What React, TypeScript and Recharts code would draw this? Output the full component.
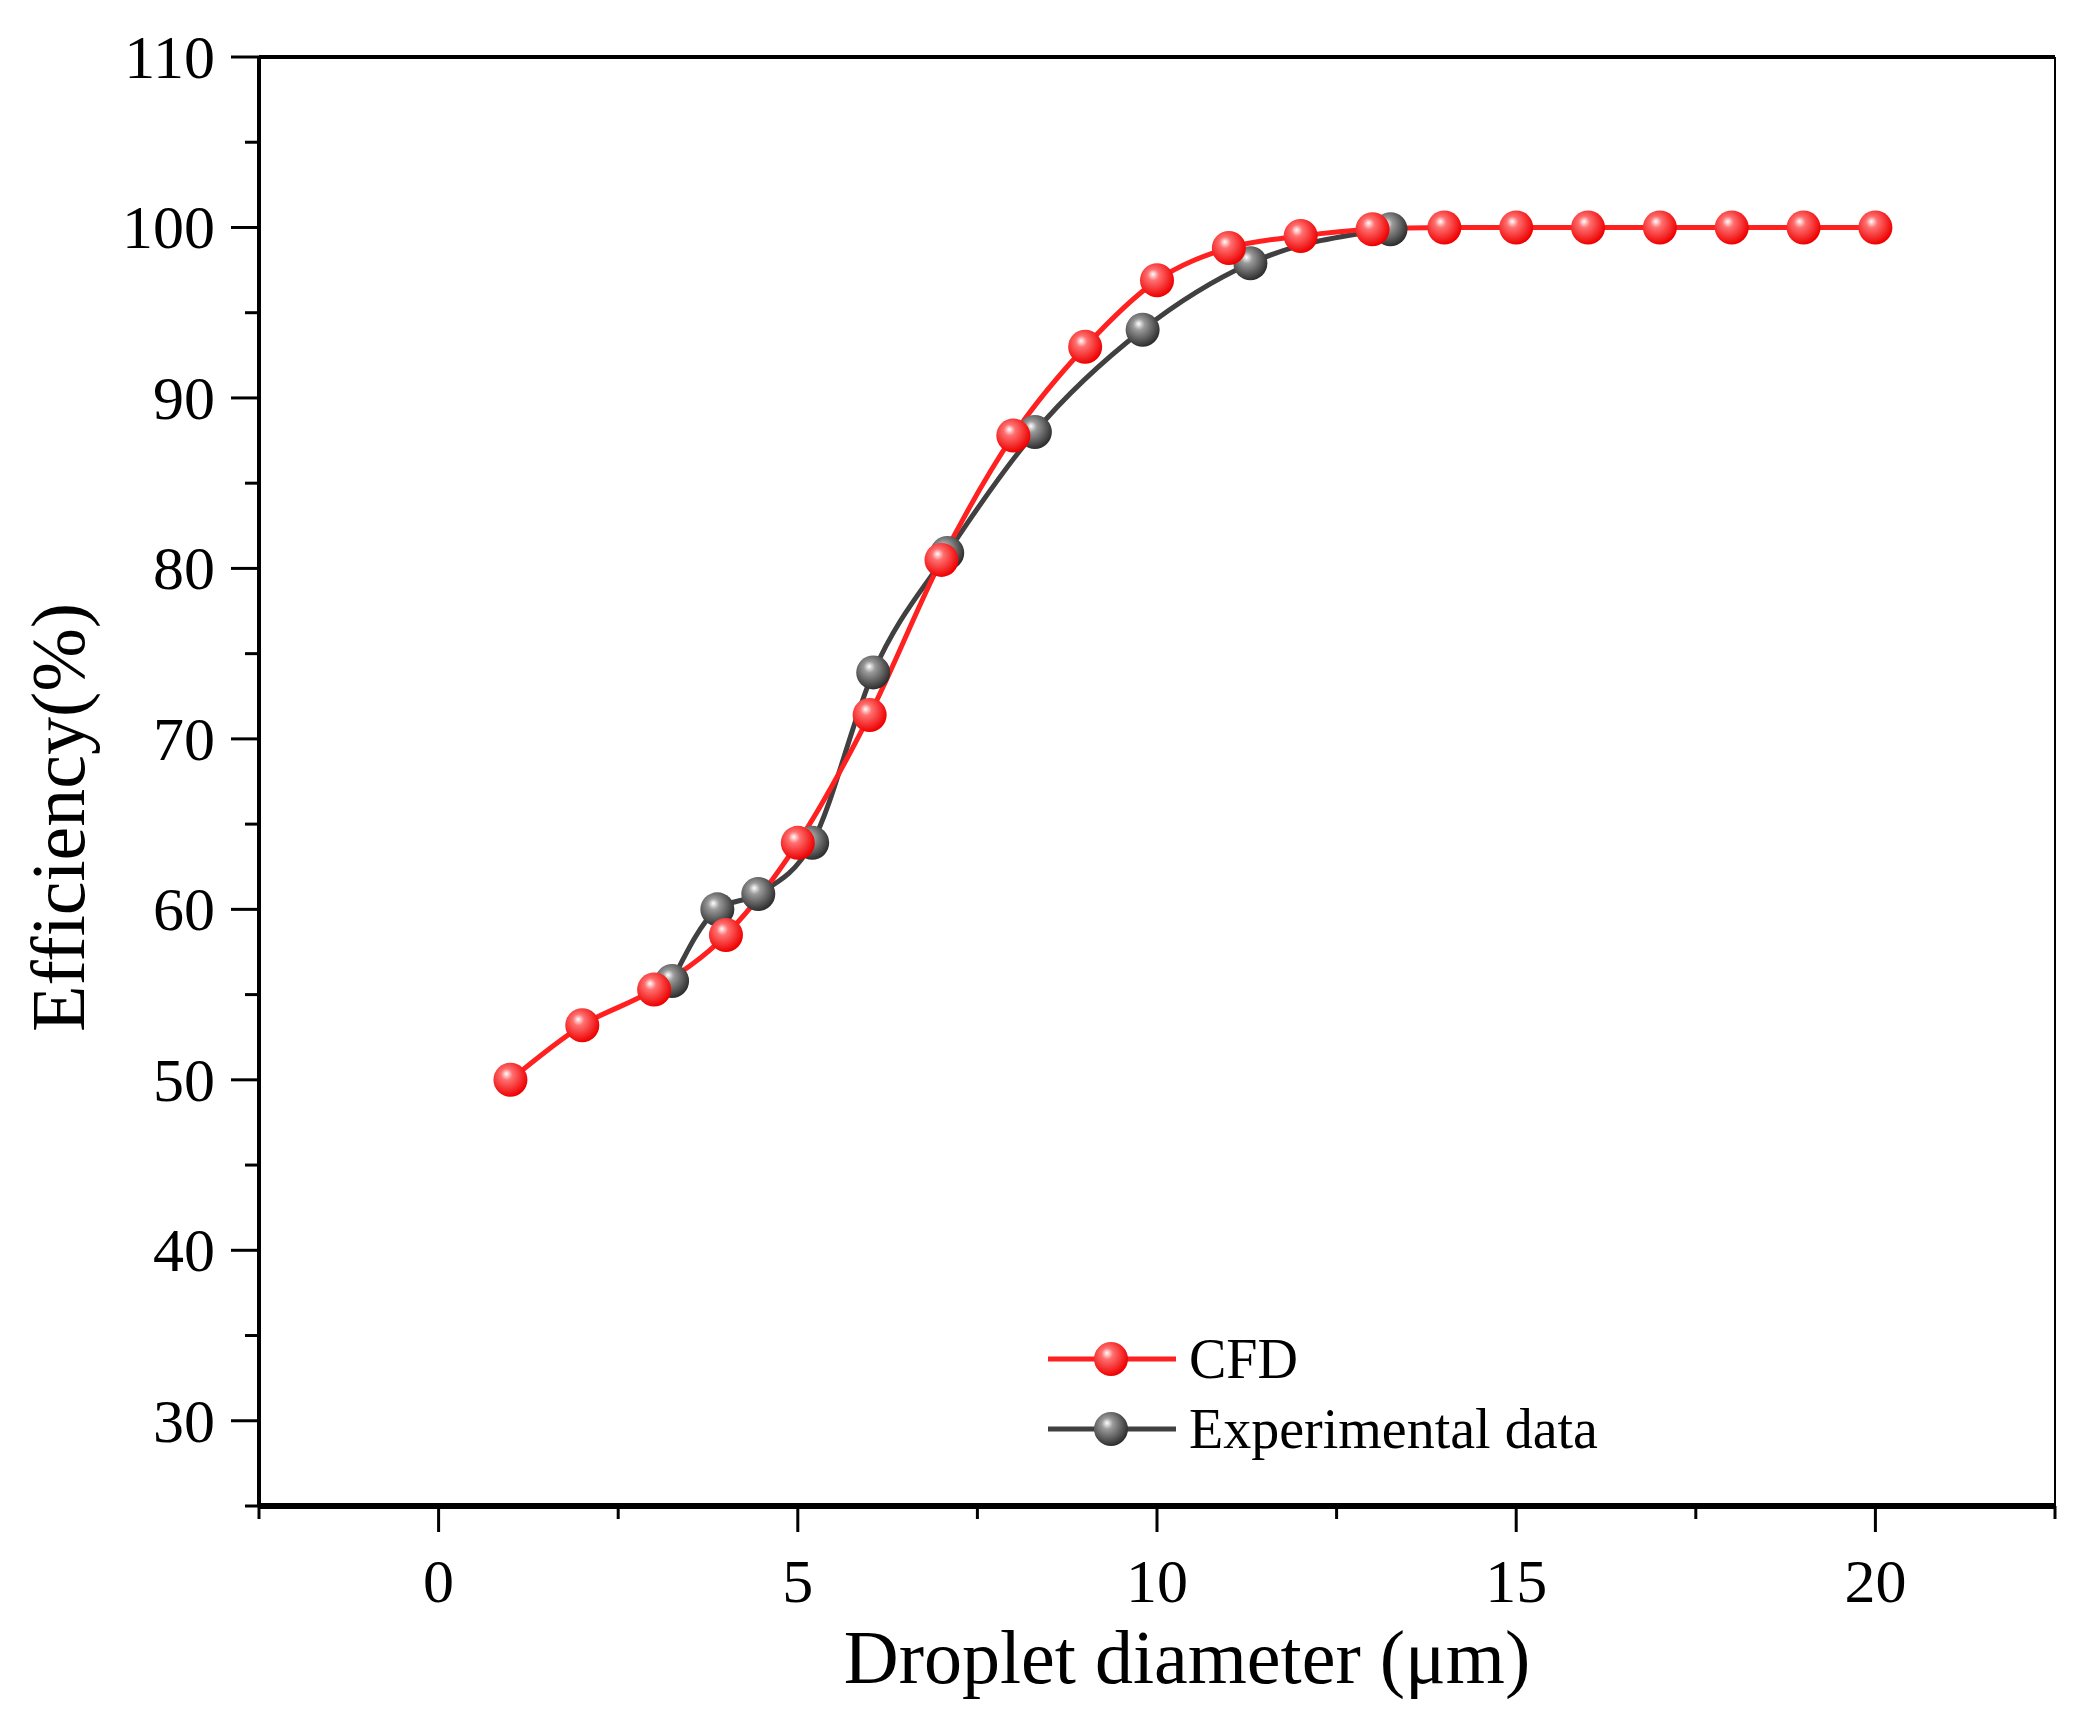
import React from "react";
import {
  LineChart,
  Line,
  XAxis,
  YAxis,
  Legend,
  ReferenceLine,
} from "recharts";

// CFD simulation, droplet diameter (um) vs separation efficiency (%)
const cfdDiameter = [1, 2, 3, 4, 5, 6, 7, 8, 9, 10, 11, 12, 13, 14, 15, 16, 17, 18, 19, 20];
const cfdEfficiency = [
  50, 53.2, 55.3, 58.5, 63.9, 71.4, 80.5, 87.8, 93.0, 96.9, 98.8, 99.5, 99.9, 100,
  100, 100, 100, 100, 100, 100,
];

// measured values
const expDiameter = [3.25, 3.88, 4.45, 5.2, 6.05, 7.08, 8.3, 9.8, 11.3, 13.25];
const expEfficiency = [55.8, 60.0, 60.9, 63.9, 73.9, 80.9, 88.0, 94.0, 97.9, 99.9];

const xTicks = [-2.5, 0, 2.5, 5, 7.5, 10, 12.5, 15, 17.5, 20, 22.5];
const yTicks = [25, 30, 35, 40, 45, 50, 55, 60, 65, 70, 75, 80, 85, 90, 95, 100, 105, 110];

const cfdData = cfdDiameter.map((x, i) => ({ x, y: cfdEfficiency[i] }));
const expData = expDiameter.map((x, i) => ({ x, y: expEfficiency[i] }));

const FONT = "'Liberation Serif', 'Times New Roman', serif";
const RED = "#ff2020";
const GRAY = "#404040";

const XTick = (props: any) => {
  const { x, y, payload } = props;
  const v = payload.value;
  const major = v % 5 === 0;
  return (
    <g>
      <line x1={x} x2={x} y1={y} y2={y + (major ? 26 : 13)} stroke="#000" strokeWidth={3} />
      {major && (
        <text x={x} y={y + 96} textAnchor="middle" fontSize={62} fontFamily={FONT} fill="#000">
          {v}
        </text>
      )}
    </g>
  );
};

const YTick = (props: any) => {
  const { x, y, payload } = props;
  const v = payload.value;
  const major = v % 10 === 0;
  return (
    <g>
      <line x1={x - (major ? 28 : 14)} x2={x} y1={y} y2={y} stroke="#000" strokeWidth={3} />
      {major && (
        <text x={x - 44} y={y + 21} textAnchor="end" fontSize={62} fontFamily={FONT} fill="#000">
          {v}
        </text>
      )}
    </g>
  );
};

const ball = (grad: string) => (props: any) => {
  const { cx, cy, index } = props;
  if (cx == null || cy == null) return <g key={index} />;
  return <circle key={index} cx={cx} cy={cy} r={17} fill={`url(#${grad})`} />;
};

const legendItems = [
  { name: "CFD", color: RED, grad: "redBall" },
  { name: "Experimental data", color: GRAY, grad: "grayBall" },
];

const renderLegend = () => (
  <div style={{ fontFamily: FONT, fontSize: 56, color: "#000" }}>
    {legendItems.map((it) => (
      <div key={it.name} style={{ display: "flex", alignItems: "center", height: 70 }}>
        <svg width={128} height={70} style={{ display: "block" }}>
          <defs>
            <radialGradient id={`lg-${it.grad}`} cx="0.42" cy="0.4" r="0.6" fx="0.38" fy="0.32">
              <stop offset="0" stopColor="#ffffff" />
              <stop offset="0.28" stopColor={it.color === RED ? "#ff7070" : "#9a9a9a"} />
              <stop offset="1" stopColor={it.color === RED ? "#ee0000" : "#2e2e2e"} />
            </radialGradient>
          </defs>
          <line x1={0} x2={128} y1={35} y2={35} stroke={it.color} strokeWidth={5} />
          <circle cx={63} cy={35} r={17} fill={`url(#lg-${it.grad})`} />
        </svg>
        <span style={{ marginLeft: 13, lineHeight: "70px" }}>{it.name}</span>
      </div>
    ))}
  </div>
);

const XTitle = (props: any) => {
  const vb = props.viewBox || { x: 251, y: 1498, width: 1796, height: 207 };
  return (
    <text
      x={vb.x + vb.width / 2 + 30}
      y={1675}
      textAnchor="middle"
      fontSize={76}
      fontFamily={FONT}
      fill="#000"
    >
      Droplet diameter (μm)
    </text>
  );
};

const YTitle = (props: any) => {
  const vb = props.viewBox || { x: 0, y: 49, width: 251, height: 1449 };
  const cx = 50;
  const cy = vb.y + vb.height / 2 + 36;
  return (
    <text
      x={cx}
      y={cy}
      transform={`rotate(-90 ${cx} ${cy})`}
      textAnchor="middle"
      dominantBaseline="central"
      fontSize={76}
      fontFamily={FONT}
      fill="#000"
    >
      Efficiency(%)
    </text>
  );
};

export default function App() {
  return (
    <div style={{ width: 2063, height: 1705, background: "#fff" }}>
      <LineChart width={2063} height={1705} margin={{ top: 49, right: 16, left: 0, bottom: 0 }}>
        <defs>
          <radialGradient id="redBall" cx="0.42" cy="0.4" r="0.6" fx="0.38" fy="0.32">
            <stop offset="0" stopColor="#ffffff" />
            <stop offset="0.28" stopColor="#ff7070" />
            <stop offset="1" stopColor="#ee0000" />
          </radialGradient>
          <radialGradient id="grayBall" cx="0.42" cy="0.4" r="0.6" fx="0.38" fy="0.32">
            <stop offset="0" stopColor="#ffffff" />
            <stop offset="0.28" stopColor="#9a9a9a" />
            <stop offset="1" stopColor="#2e2e2e" />
          </radialGradient>
        </defs>
        <XAxis
          type="number"
          dataKey="x"
          domain={[-2.5, 22.5]}
          ticks={xTicks}
          interval={0}
          allowDataOverflow
          height={207}
          tickSize={0}
          tickMargin={0}
          tickLine={false}
          tick={<XTick />}
          axisLine={{ stroke: "#000", strokeWidth: 6 }}
          label={<XTitle />}
        />
        <YAxis
          type="number"
          dataKey="y"
          domain={[25, 110]}
          ticks={yTicks}
          interval={0}
          allowDataOverflow
          width={251}
          tickSize={0}
          tickMargin={0}
          tickLine={false}
          tick={<YTick />}
          axisLine={{ stroke: "#000", strokeWidth: 4 }}
          label={<YTitle />}
        />
        <ReferenceLine y={110} stroke="#000" strokeWidth={4} />
        <ReferenceLine x={22.5} stroke="#000" strokeWidth={2} />
        <Line
          data={expData}
          dataKey="y"
          name="Experimental data"
          type="monotone"
          stroke={GRAY}
          strokeWidth={5}
          dot={ball("grayBall")}
          activeDot={false}
          isAnimationActive={false}
        />
        <Line
          data={cfdData}
          dataKey="y"
          name="CFD"
          type="monotone"
          stroke={RED}
          strokeWidth={5}
          dot={ball("redBall")}
          activeDot={false}
          isAnimationActive={false}
        />
        <Legend
          layout="vertical"
          align="center"
          verticalAlign="middle"
          content={renderLegend}
          wrapperStyle={{ left: 1040, top: 1316, width: "auto", height: "auto" }}
        />
      </LineChart>
    </div>
  );
}
